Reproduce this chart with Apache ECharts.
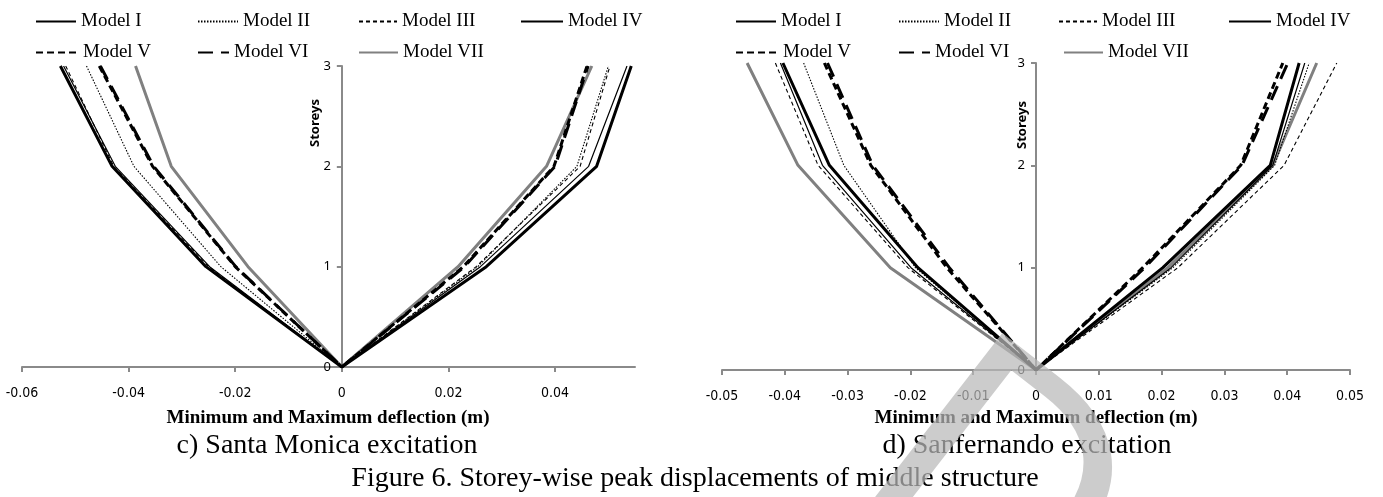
<!DOCTYPE html>
<html>
<head>
<meta charset="utf-8">
<script src="https://cdn.jsdelivr.net/npm/echarts@6/dist/echarts.min.js"></script>
<style>
html,body{margin:0;padding:0;background:#fff;}
#chart{width:1383px;height:497px;}
</style>
</head>
<body>
<div id="chart"></div>
<script>
// ---------------- DATA ----------------
const modelNames = ['Model I', 'Model II', 'Model III', 'Model IV', 'Model V', 'Model VI', 'Model VII'];
// storey level for each point of a curve: min side (3→0) then max side (0→3)
const storeys = [3, 2, 1, 0, 1, 2, 3];

// c) Santa Monica excitation: deflection (m) at storeys [3,2,1,0,1,2,3]
const smModel1 = [-0.0522, -0.0425, -0.0248, 0, 0.0260, 0.0463, 0.0535];
const smModel2 = [-0.0479, -0.0390, -0.0227, 0, 0.0255, 0.0441, 0.0500];
const smModel3 = [-0.0518, -0.0428, -0.0250, 0, 0.0252, 0.0447, 0.0503];
const smModel4 = [-0.0528, -0.0431, -0.0255, 0, 0.0271, 0.0478, 0.0543];
const smModel5 = [-0.0455, -0.0355, -0.0200, 0, 0.0228, 0.0398, 0.0460];
const smModel6 = [-0.0453, -0.0353, -0.0199, 0, 0.0230, 0.0400, 0.0462];
const smModel7 = [-0.0387, -0.0320, -0.0176, 0, 0.0218, 0.0384, 0.0469];

// d) Sanfernando excitation
const sfModel1 = [-0.0407, -0.0340, -0.0199, 0, 0.0215, 0.0377, 0.0428];
const sfModel2 = [-0.0370, -0.0306, -0.0192, 0, 0.0218, 0.0380, 0.0435];
const sfModel3 = [-0.0415, -0.0347, -0.0204, 0, 0.0226, 0.0395, 0.0479];
const sfModel4 = [-0.0403, -0.0329, -0.0188, 0, 0.0202, 0.0373, 0.0419];
const sfModel5 = [-0.0337, -0.0263, -0.0142, 0, 0.0170, 0.0326, 0.0393];
const sfModel6 = [-0.0332, -0.0260, -0.0138, 0, 0.0173, 0.0328, 0.0401];
const sfModel7 = [-0.0460, -0.0379, -0.0232, 0, 0.0210, 0.0377, 0.0447];

const leftTickValues = [-0.06, -0.04, -0.02, 0, 0.02, 0.04];
const rightTickValues = [-0.05, -0.04, -0.03, -0.02, -0.01, 0, 0.01, 0.02, 0.03, 0.04, 0.05];
const storeyTicks = [0, 1, 2, 3];

const xAxisTitle = 'Minimum and Maximum deflection (m)';
const yAxisTitle = 'Storeys';
const captionLeft = 'c) Santa Monica excitation';
const captionRight = 'd) Sanfernando excitation';
const figureCaption = 'Figure 6. Storey-wise peak displacements of middle structure';

// ---------------- STYLE ----------------
const lineStyles = [
  { color: '#000', width: 1.2, type: 'solid' },
  { color: '#000', width: 1.1, type: [1.5, 1.5] },
  { color: '#000', width: 1.1, type: [4, 3] },
  { color: '#000', width: 3, type: 'solid' },
  { color: '#000', width: 3, type: [7, 4] },
  { color: '#000', width: 3, type: [15, 8] },
  { color: '#808080', width: 3, type: 'solid' }
];
const smSets = [smModel1, smModel2, smModel3, smModel4, smModel5, smModel6, smModel7];
const sfSets = [sfModel1, sfModel2, sfModel3, sfModel4, sfModel5, sfModel6, sfModel7];

const serifFont = '"Liberation Serif", "Times New Roman", serif';
const tickFont = '"Liberation Sans Narrow", "DejaVu Sans Condensed", "Liberation Sans", sans-serif';
const axisGray = '#8a8a8a';
const grids = [
  { left: 22, top: 66, width: 613, height: 301 },
  { left: 722, top: 63, width: 628, height: 307 }
];

function zipCurve(vals) { return vals.map((v, i) => [v, storeys[i]]); }

const series = [];
[smSets, sfSets].forEach((sets, gi) => {
  sets.forEach((vals, mi) => {
    series.push({
      type: 'line', name: modelNames[mi], xAxisIndex: gi, yAxisIndex: gi,
      data: zipCurve(vals), symbol: 'none', silent: true, animation: false,
      lineStyle: lineStyles[mi], color: lineStyles[mi].color, z: 10 - mi
    });
  });
});

// legend layout (icon left x, row)
const legendLeftX = [[35, 197, 358, 520, 35, 197, 358], [735, 898, 1058, 1228, 735, 898, 1063]];
const legendIconW = [40, 40, 38, 42, 42, 31, 39];
const legendRowTop = [12, 43];
const legends = [];
legendLeftX.forEach((xs) => {
  xs.forEach((x, mi) => {
    legends.push({
      data: [modelNames[mi]], left: x, top: legendRowTop[mi < 4 ? 0 : 1], padding: 0,
      orient: 'horizontal', itemWidth: legendIconW[mi], itemHeight: 18, itemGap: 0,
      itemTextGap: mi === 5 ? 14 : 3, selectedMode: false,
      itemStyle: { opacity: 0, borderWidth: 0 },
      textStyle: { fontFamily: serifFont, fontSize: 19, color: '#000' }
    });
  });
});

function xAxisDef(gi, min, max, ticks) {
  return {
    type: 'value', gridIndex: gi, min: min, max: max,
    splitLine: { show: false },
    axisLine: { onZero: false, lineStyle: { color: axisGray, width: 2 } },
    axisTick: { show: true, length: 5, lineStyle: { color: axisGray, width: 2 }, customValues: ticks },
    axisLabel: { customValues: ticks, margin: 19, color: '#000', fontFamily: tickFont, fontSize: 14,
      formatter: (v) => String(Math.round(v * 100) / 100) }
  };
}
function yAxisDef(gi) {
  return {
    type: 'value', gridIndex: gi, min: 0, max: 3, interval: 1, position: 'left', offset: 0,
    splitLine: { show: false },
    axisLine: { onZero: false, lineStyle: { color: axisGray, width: 2 } },
    axisTick: { show: true, length: 5, lineStyle: { color: axisGray, width: 2 } },
    axisLabel: { margin: 11, color: '#000', fontFamily: '"Noto Sans", "Liberation Sans", sans-serif', fontSize: 13 }
  };
}

const chart = echarts.init(document.getElementById('chart'), null, { renderer: 'canvas' });
chart.setOption({
  animation: false,
  backgroundColor: '#fff',
  grid: grids,
  xAxis: [xAxisDef(0, -0.06, 0.055, leftTickValues), xAxisDef(1, -0.05, 0.05, rightTickValues)],
  yAxis: [yAxisDef(0), yAxisDef(1)],
  legend: legends,
  series: series,
  graphic: [
    { type: 'text', x: 315, y: 123, rotation: Math.PI / 2, z: 50,
      style: { text: yAxisTitle, font: 'bold 13px "Noto Sans", "Liberation Sans", sans-serif', fill: '#000', textAlign: 'center', textVerticalAlign: 'middle' } },
    { type: 'text', x: 1022, y: 125, rotation: Math.PI / 2, z: 50,
      style: { text: yAxisTitle, font: 'bold 13px "Noto Sans", "Liberation Sans", sans-serif', fill: '#000', textAlign: 'center', textVerticalAlign: 'middle' } },
    { type: 'text', x: 328, y: 418, z: 50,
      style: { text: xAxisTitle, font: 'bold 19px ' + serifFont, fill: '#000', textAlign: 'center', textVerticalAlign: 'middle' } },
    { type: 'text', x: 1036, y: 418, z: 50,
      style: { text: xAxisTitle, font: 'bold 19px ' + serifFont, fill: '#000', textAlign: 'center', textVerticalAlign: 'middle' } },
    { type: 'text', x: 327, y: 446, z: 50,
      style: { text: captionLeft, font: '28px ' + serifFont, fill: '#000', textAlign: 'center', textVerticalAlign: 'middle' } },
    { type: 'text', x: 1027, y: 446, z: 50,
      style: { text: captionRight, font: '28px ' + serifFont, fill: '#000', textAlign: 'center', textVerticalAlign: 'middle' } },
    { type: 'text', x: 695, y: 479, z: 50,
      style: { text: figureCaption, font: '28px ' + serifFont, fill: '#000', textAlign: 'center', textVerticalAlign: 'middle' } },
    { type: 'text', x: 992, y: 492, rotation: -0.66, z: 100, silent: true,
      style: { text: 'D', font: '320px "Liberation Sans", sans-serif', fill: 'rgba(185,185,185,0.72)', textAlign: 'center', textVerticalAlign: 'middle' } }
  ]
});
// place each storey axis on the zero deflection line (the axis crosses at x = 0)
const yOffsets = grids.map((g, gi) => -(chart.convertToPixel({ xAxisIndex: gi }, 0) - g.left));
chart.setOption({ yAxis: yOffsets.map((o) => ({ offset: o })) });
</script>
</body>
</html>
